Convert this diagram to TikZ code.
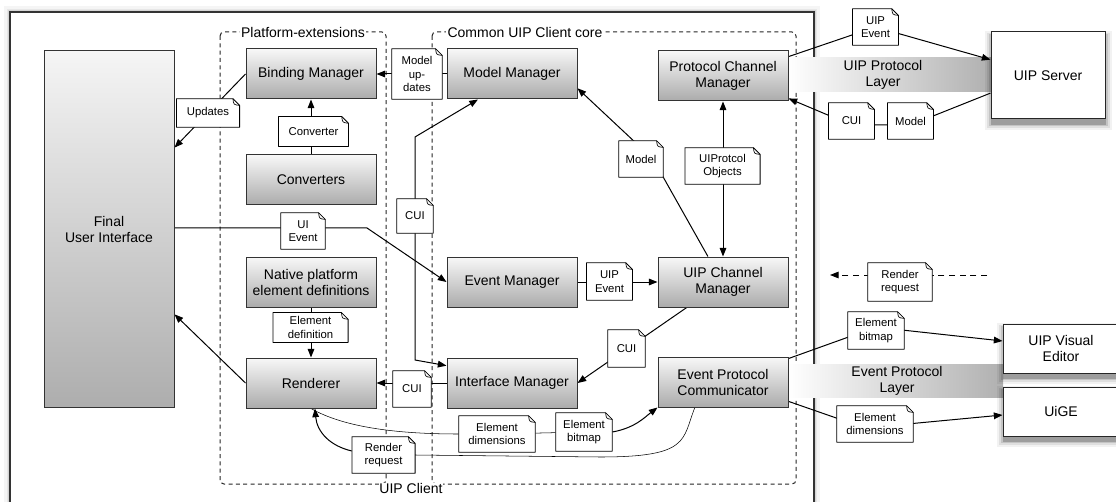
\documentclass[tikz,border=0pt]{standalone}
\usepackage{fontspec}
\setmainfont{Liberation Sans}
\usetikzlibrary{arrows.meta,calc}
\pgfdeclarelayer{back}
\pgfdeclarelayer{wires}
\pgfdeclarelayer{paper}
\pgfsetlayers{back,wires,paper,main}

\tikzset{
  big/.style={font=\fontsize{10.5}{12}\selectfont},
  small/.style={font=\fontsize{8.5}{10.2}\selectfont},
  box/.style={draw=black!80, line width=0.75pt, top color=black!3, bottom color=black!33,
    minimum width=97.5pt, minimum height=37.5pt, inner sep=0pt, align=center, big},
  ext/.style={draw=black!85, line width=0.75pt, fill=white, inner sep=0pt, align=center, big},
  note/.style={inner sep=0pt, align=center, small},
  wire/.style={draw=black, line width=0.75pt},
  arr/.style={wire, -{Triangle[length=6.5pt,width=5pt]}},
  darr/.style={wire, {Triangle[length=6.5pt,width=5pt]}-{Triangle[length=6.5pt,width=5pt]}},
  grp/.style={draw=black!85, line width=0.75pt, dash pattern=on 3pt off 2.5pt, rounded corners=3pt},
  grplabel/.style={fill=white, inner sep=1pt, big},
  band/.style={left color=white, right color=black!31},
}

\begin{document}
\begin{tikzpicture}[x=0.75pt, y=-0.75pt]
\useasboundingbox (0,0) rectangle (1116,502);

% ---------- client frame, groups and protocol layers ----------
\begin{pgfonlayer}{back}
  \draw[black, opacity=0.04, line width=9pt] (10,12) rectangle (814,530);
  \draw[black, opacity=0.06, line width=5pt] (10,12) rectangle (814,530);
  \draw[black, opacity=0.08, line width=2.5pt] (10,12) rectangle (814,530);
  \filldraw[fill=white, draw=black!80, line width=0.9pt] (10,12) rectangle (814,530);

  \draw[grp] (220,32) rectangle (386,484);
  \node[grplabel] (pelbl) at (303,32) {Platform-extensions};
  \draw[grp] (432,32) rectangle (796,484);
  \node[grplabel, anchor=west] (corelbl) at (446,32) {Common UIP Client core};
  \draw[grp] (384,484) -- (434,484);
  \node[grplabel, inner sep=0.5pt] (clientlbl) at (411,488.5) {UIP Client};

  \shade[band] (788,58) rectangle (991,92);
  \node[big, align=center] (uiplayer) at (883,75) {UIP Protocol\\Layer};
  \shade[band] (788,364) rectangle (1003,397);
  \node[big, align=center] (evlayer) at (897,381) {Event Protocol\\Layer};
\end{pgfonlayer}

% ---------- components ----------
\node[box, minimum height=267pt, top color=black!4, bottom color=black!32] (fui) at (109,229) {Final\\User Interface};

\node[box] (bm)   at (311,74)  {Binding Manager};
\node[box] (conv) at (311,180) {Converters};
\node[box] (npe)  at (311,282) {Native platform\\element definitions};
\node[box] (rend) at (311,383) {Renderer};

\node[box] (mm)   at (512,74)  {Model Manager};
\node[box] (em)   at (512,282) {Event Manager};
\node[box] (im)   at (512,383) {Interface Manager};

\node[box] (pcm)  at (723,76)  {Protocol Channel\\Manager};
\node[box] (ucm)  at (723,282) {UIP Channel\\Manager};
\node[box] (epc)  at (723,382) {Event Protocol\\Communicator};

\node[ext, minimum width=85.5pt, minimum height=65.25pt] (uis)  at (1048,75.5)  {UIP Server};
\node[ext, minimum width=87pt,   minimum height=36.75pt] (uve)  at (1061,348.5) {UIP Visual\\Editor};
\node[ext, minimum width=87pt,   minimum height=36.75pt] (uige) at (1061,411.5) {UiGE};

% soft drop shadows under the external tools
\begin{pgfonlayer}{wires}
  \foreach \n in {uis,uve,uige}{
    \foreach \a/\b/\c/\d/\o in {-4.5/0.5/4.5/-8/0.05, -3/-1/3/-6.5/0.08, -1.5/-2/1.5/-5/0.12, 0/-3/0/-4/0.2}{
      \fill[black, opacity=\o] ([xshift=\a pt, yshift=\b pt]\n.north west)
        rectangle ([xshift=\c pt, yshift=\d pt]\n.south east);
    }
  }
\end{pgfonlayer}

% ---------- message notes ----------
\node[note, minimum width=47pt,   minimum height=21pt]    (upd)   at (208,113)   {Updates};
\node[note, minimum width=52pt,   minimum height=22pt]    (cvt)   at (313.5,131.5) {Converter};
\node[note, minimum width=33pt,   minimum height=27pt]    (uie)   at (303,231)   {UI\\Event};
\node[note, minimum width=37.5pt, minimum height=37.5pt]  (mud)   at (417,74)    {Model\\up-\\dates};
\node[note, minimum width=27pt,   minimum height=25.5pt]  (cui1)  at (415,216)   {CUI};
\node[note, minimum width=33pt,   minimum height=27pt]    (mdl1)  at (641,159)   {Model};
\node[note, minimum width=56pt,   minimum height=27pt]    (upo)   at (722.5,166) {UIProtcol\\Objects};
\node[note, minimum width=34pt,   minimum height=27pt]    (uev1)  at (875.5,27)  {UIP\\Event};
\node[note, minimum width=34pt,   minimum height=27pt]    (cui2)  at (851.5,121) {CUI};
\node[note, minimum width=34pt,   minimum height=27pt]    (mdl2)  at (910.5,121) {Model};
\node[note, minimum width=56pt,   minimum height=22pt]    (edef)  at (310.5,327.5) {Element\\definition};
\node[note, minimum width=34pt,   minimum height=27.75pt] (uev2)  at (609.5,281.5) {UIP\\Event};
\node[note, minimum width=27.75pt,minimum height=27.75pt] (cui3)  at (626.5,348.5) {CUI};
\node[note, minimum width=28.5pt, minimum height=27pt]    (cui4)  at (412,389)   {CUI};
\node[note, minimum width=57pt,   minimum height=27pt]    (edim1) at (497,434)   {Element\\dimensions};
\node[note, minimum width=42pt,   minimum height=28.5pt]  (ebmp1) at (584,432)   {Element\\bitmap};
\node[note, minimum width=47pt,   minimum height=27pt]    (rreq1) at (383.5,455) {Render\\request};
\node[note, minimum width=48pt,   minimum height=28.5pt]  (rreq2) at (900,282)   {Render\\request};
\node[note, minimum width=42pt,   minimum height=27.75pt] (ebmp2) at (876,330.5) {Element\\bitmap};
\node[note, minimum width=57pt,   minimum height=27pt]    (edim2) at (875,424)   {Element\\dimensions};

% note sheets with a folded corner
\begin{pgfonlayer}{paper}
  \foreach \n in {upd,cvt,uie,mud,cui1,mdl1,upo,uev1,cui2,mdl2,edef,uev2,cui3,cui4,edim1,ebmp1,rreq1,rreq2,ebmp2,edim2}{
    \filldraw[fill=white, draw=black, line width=0.6pt, line join=round]
      (\n.north west) -- ([xshift=-5pt]\n.north east) -- ([yshift=-5pt]\n.north east)
      -- (\n.south east) -- (\n.south west) -- cycle;
    \draw[line width=0.5pt] ([xshift=-5pt]\n.north east)
      .. controls ([xshift=-4.5pt,yshift=-4.5pt]\n.north east) .. ([yshift=-5pt]\n.north east);
  }
\end{pgfonlayer}

% ---------- connectors ----------
\coordinate (uibend) at (367,228);
\coordinate (cuiT) at (415,137);
\coordinate (cuiB) at (415,360);
\coordinate (rrA) at (987,275);
\coordinate (rrB) at (830,275);
\coordinate (retA) at (600,457);

\begin{pgfonlayer}{wires}
  % platform side
  \draw[arr] (bm.west) -- ($(fui.north east)!0.272!(fui.south east)$);
  \draw[arr] (conv) -- (bm);
  \draw[arr] (mm) -- (bm);
  \draw[arr] (fui.east |- uibend) -- (uibend) -- (em.west);
  \draw[darr] ($(mm.south west)!0.24!(mm.south east)$) -- (cuiT) -- (cuiB)
     -- ($(im.north west)!0.16!(im.south west)$);
  \draw[arr] (npe) -- (rend);
  \draw[arr] (im) -- (rend);
  \draw[arr] (rend.west) -- ($(fui.north east)!0.739!(fui.south east)$);

  % core
  \draw[arr] ($(ucm.north west)!0.385!(ucm.north east)$) -- ([xshift=9pt]mdl1.center)
     -- ($(mm.north east)!0.78!(mm.south east)$);
  \draw[darr] (pcm) -- (ucm);
  \draw[arr] (em) -- (ucm);
  \draw[arr] ($(ucm.south west)!0.223!(ucm.south east)$) -- (im.east);

  % rendering loop
  \draw (rend.south) .. controls (345,428) and (400,434) .. (edim1.west);
  \draw (edim1) -- (ebmp1);
  \draw[arr] (ebmp1.east) .. controls (635,428) and (645,417) .. (epc.south west);
  \draw ($(epc.south west)!0.285!(epc.south east)$) .. controls (682,440) and (690,457) .. (retA)
     -- (rreq1.east);
  \draw[arr] ([yshift=3pt]rreq1.west) .. controls (330,446) and (317,432)
     .. ($(rend.south west)!0.53!(rend.south east)$);

  % external protocols
  \draw[arr] ($(pcm.north east)!0.12!(pcm.south east)$) -- (uev1.center)
     -- ($(uis.north west)!0.32!(uis.south west)$);
  \draw[arr] ($(uis.north west)!0.70!(uis.south west)$) -- ([yshift=-3pt]mdl2.center)
     -- ([yshift=-3pt]cui2.center) -- ($(pcm.north east)!0.94!(pcm.south east)$);
  \draw[arr] ($(epc.north east)!0.04!(epc.south east)$) -- ([yshift=2.5pt]ebmp2.center)
     -- ($(uve.north west)!0.35!(uve.south west)$);
  \draw[arr] ($(epc.north east)!0.88!(epc.south east)$) -- ([xshift=-7.5pt,yshift=-3pt]edim2.center)
     -- ($(uige.north west)!0.57!(uige.south west)$);
  \draw[arr, dash pattern=on 4.5pt off 3.5pt] (rrA) -- (rrB);
\end{pgfonlayer}
\end{tikzpicture}
\end{document}
